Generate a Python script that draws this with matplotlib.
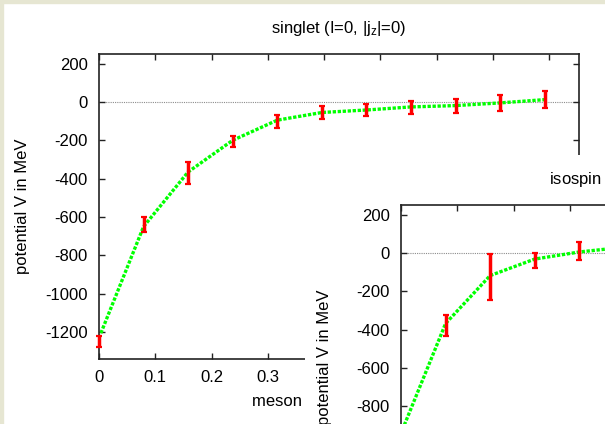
import matplotlib
matplotlib.use("Agg")
import matplotlib.pyplot as plt
from matplotlib.patches import Rectangle

plt.rcParams["font.family"] = ["Liberation Sans", "DejaVu Sans"]
plt.rcParams["mathtext.fontset"] = "custom"
plt.rcParams["mathtext.rm"] = "Liberation Sans"
plt.rcParams["mathtext.default"] = "regular"
plt.rcParams["axes.unicode_minus"] = False
plt.rcParams["font.size"] = 12

# singlet channel (front plot)
sep = [0.0, 0.0792, 0.1584, 0.2376, 0.3168, 0.396, 0.4752, 0.5544, 0.6336, 0.7128, 0.792]
pot = [-1251, -641, -371, -207, -102, -55, -41, -29, -22, -7, 13]
pot_err = [28, 39, 59, 30, 33, 32, 30, 33, 36, 41, 42]
fit = [-1230, -650, -365, -200, -95, -55, -42, -26, -19, -5, 12]

# isospin channel (second plot, partly off the picture)
sep2 = [0.0792, 0.1584, 0.2376, 0.3168]
pot2 = [-380, -125, -38, 10]
pot2_err = [55, 122, 38, 47]
fit2_x = [0.0, 0.0792, 0.1584, 0.2376, 0.3168, 0.396]
fit2 = [-940, -368, -118, -32, 5, 30]

W, H = 605, 424
BEIGE = "#e6e6d2"


def px_rect(left, top, w, h):
    return [left / W, 1 - (top + h) / H, w / W, h / H]


def draw_panel(ax, x, y, yerr, fx, fy, title):
    ax.set_xlim(0, 0.853)
    ax.set_ylim(-1342, 250)
    ax.axhline(0, color="#8c8c8c", lw=0.8, ls=(0, (1, 1)), zorder=1)
    ax.plot(fx, fy, color="#00ff00", lw=2.4, ls=(0, (1.0, 0.5)),
            dash_capstyle="butt", zorder=2)
    eb = ax.errorbar(x, y, yerr=yerr, fmt="none", ecolor="#ff0000",
                     elinewidth=2.5, capsize=2.0, capthick=1.6, zorder=3)
    for art in eb.get_children():
        art.set_clip_on(False)
    ax.set_yticks(range(-1200, 201, 200))
    ax.set_xticks([0, 0.1, 0.2, 0.3, 0.4, 0.5, 0.6, 0.7, 0.8])
    ax.set_xticklabels(["0", "0.1", "0.2", "0.3", "0.4", "0.5", "0.6", "0.7", "0.8"])
    ax.tick_params(direction="in", length=4, width=1, top=True, right=True,
                   pad=8, colors="#222222", labelcolor="black")
    for s in ax.spines.values():
        s.set_linewidth(1.2)
        s.set_color("#222222")
    ax.text(0.5, 1.085, title, transform=ax.transAxes, ha="center", va="center")
    ax.text(0.5, -0.139, "meson separation in fm", transform=ax.transAxes,
            ha="center", va="center")
    ax.text(-0.16, 0.5, "potential V in MeV", transform=ax.transAxes,
            ha="center", va="center", rotation=90)


fig = plt.figure(figsize=(W / 100, H / 100), dpi=100)
fig.patch.set_facecolor("white")
fig.add_artist(Rectangle((0, 0), 3 / W, 1, transform=fig.transFigure,
                         color=BEIGE, zorder=0))
fig.add_artist(Rectangle((0, 1 - 3 / H), 1, 3 / H, transform=fig.transFigure,
                         color=BEIGE, zorder=0))

ax1 = fig.add_axes(px_rect(99, 54, 480, 305.3))
ax1.set_zorder(1)
draw_panel(ax1, sep, pot, pot_err, sep, fit, r"singlet (I=0, |j$_{z}$|=0)")

# the second picture lies over the lower right corner
fig.add_artist(Rectangle((305 / W, 0), 300 / W, 269 / H, transform=fig.transFigure,
                         facecolor="white", edgecolor="none", zorder=2))

ax2 = fig.add_axes(px_rect(401, 205, 480, 305.3))
ax2.set_zorder(3)
draw_panel(ax2, sep2, pot2, pot2_err, fit2_x, fit2, r"isospin triplet (I=1, |j$_{z}$|=0)")

fig.savefig("out.png", dpi=100)
